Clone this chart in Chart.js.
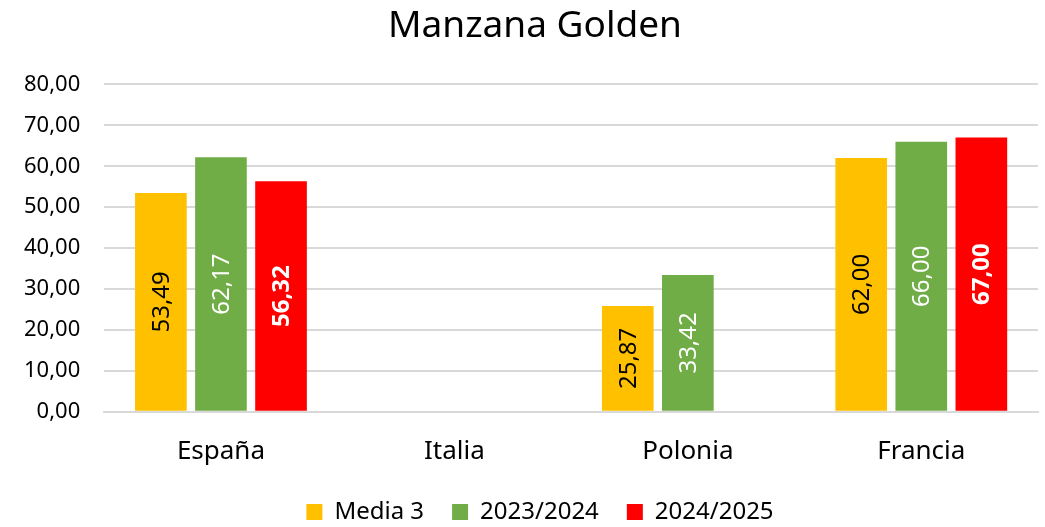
<!DOCTYPE html>
<html>
<head>
<meta charset="utf-8">
<script src="https://cdn.jsdelivr.net/npm/chart.js@4/dist/chart.umd.min.js"></script>
<style>
  html, body { margin: 0; padding: 0; background: #fff; }
  #wrap { width: 1045px; height: 527px; }
</style>
</head>
<body>
<div id="wrap"><canvas id="goldenChart" width="1045" height="527"></canvas></div>
<script>
// Manzana Golden: precio por país y campaña
const paises = ['España', 'Italia', 'Polonia', 'Francia'];
const media3 = [53.49, null, 25.87, 62.00];
const campana2324 = [62.17, null, 33.42, 66.00];
const campana2425 = [56.32, null, null, 67.00];
const ticksY = [0, 10, 20, 30, 40, 50, 60, 70, 80];

const FONT = '"Noto Sans", sans-serif';

function fmt(v) {
    return v.toFixed(2).replace('.', ',');
}

// Etiquetas de valor giradas dentro de cada barra
const barLabels = {
    id: 'barLabels',
    afterDatasetsDraw(chart) {
        const ctx = chart.ctx;
        chart.data.datasets.forEach((ds, i) => {
            const meta = chart.getDatasetMeta(i);
            meta.data.forEach((bar, j) => {
                const v = ds.data[j];
                if (v === null || v === undefined) return;
                const midY = (bar.y + bar.base) / 2;
                ctx.save();
                ctx.translate(bar.x, midY);
                ctx.rotate(-Math.PI / 2);
                ctx.font = (ds.labelBold ? 'bold ' : '') + '24px ' + FONT;
                ctx.fillStyle = ds.labelColor;
                ctx.textAlign = 'center';
                ctx.textBaseline = 'middle';
                ctx.fillText(fmt(v), 0, 1);
                ctx.restore();
            });
        });
    }
};

// Centra título y leyenda un poco más a la derecha
const shiftBoxes = {
    id: 'shiftBoxes',
    afterLayout(chart) {
        [[chart.titleBlock, 16], [chart.legend, 21]].forEach(([box, dx]) => {
            if (!box) return;
            box.left += dx;
            box.right += dx;
        });
    }
};

new Chart(document.getElementById('goldenChart'), {
    type: 'bar',
    data: {
        labels: paises,
        datasets: [
            { label: 'Media 3', data: media3, backgroundColor: '#FFC000', labelColor: '#000', labelBold: false },
            { label: '2023/2024', data: campana2324, backgroundColor: '#70AD47', labelColor: '#fff', labelBold: false },
            { label: '2024/2025', data: campana2425, backgroundColor: '#FF0000', labelColor: '#fff', labelBold: true }
        ]
    },
    options: {
        responsive: false,
        animation: false,
        categoryPercentage: 0.772,
        barPercentage: 0.86,
        layout: { padding: { left: 0, right: 7, top: 0, bottom: -7 } },
        scales: {
            x: {
                grid: { display: false },
                border: { color: '#d9d9d9', width: 2 },
                ticks: { color: '#000', font: { family: FONT, size: 26 }, padding: 16 },
                // acerca la leyenda al eje
                afterFit(scale) { scale.height -= 11; }
            },
            y: {
                min: 0,
                max: 80,
                afterBuildTicks(axis) {
                    axis.ticks = ticksY.map(v => ({ value: v }));
                },
                grid: { color: '#d9d9d9', lineWidth: 2, drawTicks: false },
                border: { display: false },
                ticks: {
                    color: '#000',
                    font: { family: FONT, size: 22 },
                    padding: 24,
                    callback: v => fmt(v)
                }
            }
        },
        plugins: {
            title: {
                display: true,
                text: 'Manzana Golden',
                color: '#000',
                font: { family: FONT, size: 37, weight: 'normal' },
                padding: { top: 4, bottom: 36 }
            },
            legend: {
                position: 'bottom',
                labels: {
                    color: '#000',
                    font: { family: FONT, size: 24 },
                    boxWidth: 16,
                    boxHeight: 16,
                    padding: 28
                }
            },
            tooltip: { enabled: false }
        }
    },
    plugins: [barLabels, shiftBoxes]
});
</script>
</body>
</html>
